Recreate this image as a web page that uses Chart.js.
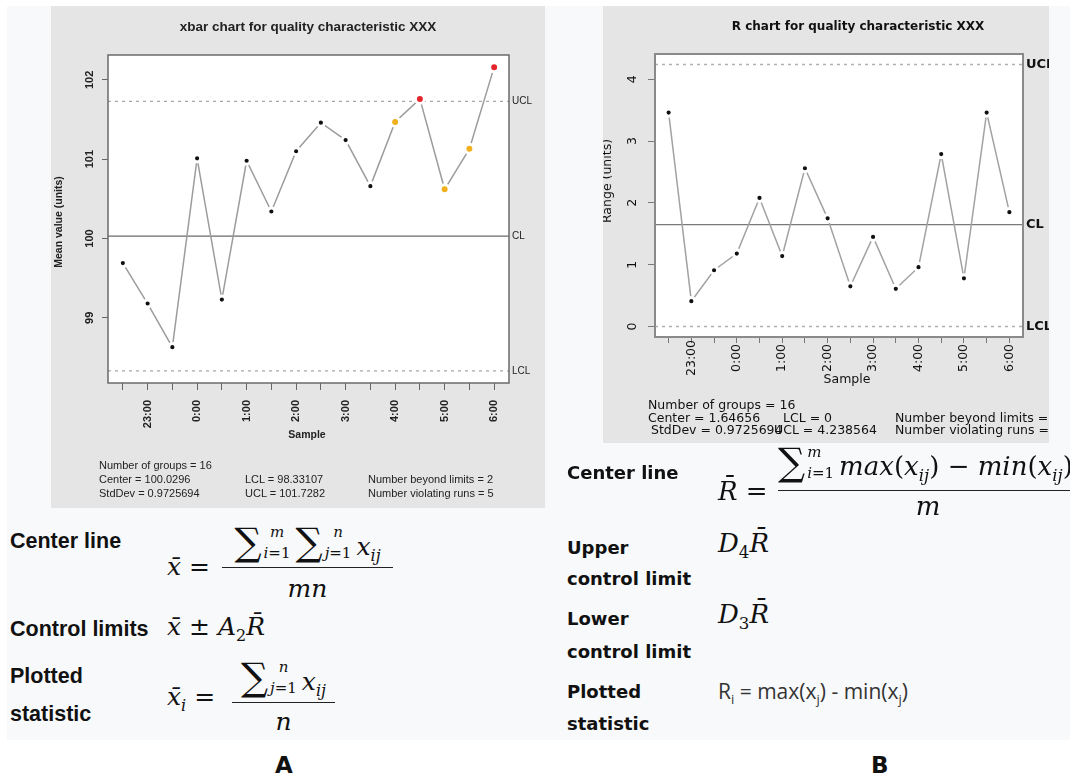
<!DOCTYPE html>
<html>
<head>
<meta charset="utf-8">
<script src="https://cdn.jsdelivr.net/npm/chart.js@4.4.1/dist/chart.umd.min.js"></script>
<style>
  body { margin:0; width:1070px; height:778px; background:#fff; position:relative; overflow:hidden; font-family:"Liberation Sans", Arial, sans-serif; color:#111; }
  .sheet { position:absolute; left:7px; top:6px; width:1063px; height:734px; background:#f8f9fa; }
  .panel { position:absolute; background:#e5e5e5; overflow:hidden; }
  #pa { left:51px; top:6px; width:494px; height:502px; }
  #pb { left:603px; top:6px; width:446px; height:437px; }
  .panel canvas { position:absolute; left:0; top:0; }
  .st { position:absolute; white-space:nowrap; line-height:1; }
  #pa .st { font-size:11px; color:#222; font-family:"Liberation Sans", Arial, sans-serif; }
  #pb .st { font-size:12.5px; color:#111; font-family:"DejaVu Sans", sans-serif; }
  .t { position:absolute; white-space:nowrap; line-height:1; }
  .la { font:bold 21.5px "Liberation Sans", Arial, sans-serif; color:#111; }
  .lb { font:bold 18px "DejaVu Sans", sans-serif; color:#111; }
  .m { font-family:"DejaVu Serif", "Liberation Serif", serif; font-size:25px; color:#111; }
  .m.r { font-size:26px; }
  .m i { font-style:italic; }
  .m sub, .m sup { font-size:0.64em; line-height:0; }
  .sg { font-size:38px; line-height:0; }
  .lim { display:inline-flex; flex-direction:column; font-size:15px; line-height:21px; position:relative; top:-18px; vertical-align:baseline; margin:0 5px 0 2px; }
  .bar { position:absolute; height:0; border-top:1.6px solid #222; }
  .big { position:absolute; font:900 23px "DejaVu Sans", sans-serif; color:#111; line-height:1; }
</style>
</head>
<body>
<div class="sheet"></div>

<div class="panel" id="pa">
  <canvas id="xbarChart" width="494" height="502"></canvas>
  <div class="st" style="left:48px;top:454px">Number of groups = 16</div>
  <div class="st" style="left:48px;top:468px">Center = 100.0296</div>
  <div class="st" style="left:48px;top:482px">StdDev = 0.9725694</div>
  <div class="st" style="left:194px;top:468px">LCL = 98.33107</div>
  <div class="st" style="left:194px;top:482px">UCL = 101.7282</div>
  <div class="st" style="left:317px;top:468px">Number beyond limits = 2</div>
  <div class="st" style="left:317px;top:482px">Number violating runs = 5</div>
</div>

<div class="panel" id="pb">
  <canvas id="rangeChart" width="446" height="437"></canvas>
  <div class="st" style="left:45px;top:393px">Number of groups = 16</div>
  <div class="st" style="left:45px;top:406px">Center = 1.64656</div>
  <div class="st" style="left:48px;top:418px">StdDev = 0.9725694</div>
  <div class="st" style="left:180px;top:406px">LCL = 0</div>
  <div class="st" style="left:171px;top:418px">UCL = 4.238564</div>
  <div class="st" style="left:292px;top:406px">Number beyond limits = 0</div>
  <div class="st" style="left:292px;top:418px">Number violating runs = 0</div>
</div>

<!-- A: formulas -->
<div class="t la" style="left:10px;top:529px">Center line</div>
<div class="t m" style="left:167px;top:554px"><i>x̄</i> =</div>
<div class="t m" style="left:212px;top:534px;width:191px;text-align:center"><span class="sg">∑</span><span class="lim"><i>m</i><span><i>i</i>=1</span></span><span class="sg">∑</span><span class="lim"><i>n</i><span><i>j</i>=1</span></span><i>x</i><sub><i>ij</i></sub></div>
<div class="bar" style="left:222px;top:567px;width:171px"></div>
<div class="t m" style="left:222px;top:576px;width:171px;text-align:center"><i>mn</i></div>

<div class="t la" style="left:10px;top:617px">Control limits</div>
<div class="t m" style="left:167px;top:614px"><i>x̄</i> ± <i>A</i><sub>2</sub><i>R̄</i></div>

<div class="t la" style="left:10px;top:664px">Plotted</div>
<div class="t la" style="left:10px;top:702px">statistic</div>
<div class="t m" style="left:167px;top:684px"><i>x̄</i><sub><i>i</i></sub> =</div>
<div class="t m" style="left:222px;top:669px;width:123px;text-align:center"><span class="sg">∑</span><span class="lim"><i>n</i><span><i>j</i>=1</span></span><i>x</i><sub><i>ij</i></sub></div>
<div class="bar" style="left:232px;top:702px;width:103px"></div>
<div class="t m" style="left:232px;top:709px;width:103px;text-align:center"><i>n</i></div>

<!-- B: formulas -->
<div class="t lb" style="left:567px;top:462px">Center line</div>
<div class="t m r" style="left:718px;top:478px"><i>R̄</i> =</div>
<div class="t m r" style="left:778px;top:453px"><span class="sg">∑</span><span class="lim"><i>m</i><span><i>i</i>=1</span></span><i>max</i>(<i>x</i><sub><i>ij</i></sub>) − <i>min</i>(<i>x</i><sub><i>ij</i></sub>)</div>
<div class="bar" style="left:778px;top:490px;width:300px"></div>
<div class="t m r" style="left:778px;top:493px;width:300px;text-align:center"><i>m</i></div>

<div class="t lb" style="left:567px;top:537px">Upper</div>
<div class="t lb" style="left:567px;top:568px">control limit</div>
<div class="t m r" style="left:718px;top:530px"><i>D</i><sub>4</sub><i>R̄</i></div>
<div class="t lb" style="left:567px;top:608px">Lower</div>
<div class="t lb" style="left:567px;top:641px">control limit</div>
<div class="t m r" style="left:718px;top:601px"><i>D</i><sub>3</sub><i>R̄</i></div>
<div class="t lb" style="left:567px;top:681px">Plotted</div>
<div class="t lb" style="left:567px;top:713px">statistic</div>
<div class="t" style="left:718px;top:677px;font:21px 'Open Sans','Liberation Sans',Arial,sans-serif;color:#333">R<sub style="font-size:13px">i</sub> = max(x<sub style="font-size:13px">j</sub>) - min(x<sub style="font-size:13px">j</sub>)</div>

<div class="big" style="left:275px;top:754px">A</div>
<div class="big" style="left:871px;top:754px">B</div>

<script>
// sample times (one subgroup every half hour)
const times = ['22:30','23:00','23:30','0:00','0:30','1:00','1:30','2:00','2:30','3:00','3:30','4:00','4:30','5:00','5:30','6:00'];

// xbar chart
const xbarValues = [99.69, 99.18, 98.63, 101.01, 99.23, 100.98, 100.34, 101.10, 101.46, 101.24, 100.66, 101.47, 101.76, 100.62, 101.13, 102.16];
const xbarFlags  = ['', '', '', '', '', '', '', '', '', '', '', 'run', 'out', 'run', 'run', 'out'];
const xbarLimits = [101.7282, 100.0296, 98.33107];   // UCL, CL, LCL
const xbarTicks  = [99, 100, 101, 102];

// R chart
const rangeValues = [3.46, 0.41, 0.91, 1.18, 2.08, 1.14, 2.56, 1.75, 0.65, 1.45, 0.61, 0.96, 2.79, 0.78, 3.46, 1.85];
const rangeFlags  = ['', '', '', '', '', '', '', '', '', '', '', '', '', '', '', ''];
const rangeLimits = [4.238564, 1.64656, 0];
const rangeTicks  = [0, 1, 2, 3, 4];

const limitNames = ['UCL', 'CL', 'LCL'];
const flagColor = { '': '#111', run: '#f1b11f', out: '#e4262a' };

// R style extension of 4% on each side
function padRange(vals) {
  const lo = Math.min(...vals), hi = Math.max(...vals), d = (hi - lo) * 0.04;
  return [lo - d, hi + d];
}

function rot(ctx, s, px, py) {
  ctx.save(); ctx.translate(px, py); ctx.rotate(-Math.PI / 2); ctx.fillText(s, 0, 0); ctx.restore();
}

const rPlot = {
  id: 'rPlot',
  beforeDraw(chart) {
    const {ctx, chartArea: a} = chart;
    ctx.save(); ctx.fillStyle = '#fff'; ctx.fillRect(a.left, a.top, a.width, a.height); ctx.restore();
  },
  afterDraw(chart, args, o) {
    const {ctx, chartArea: a, scales: {x, y}} = chart;
    ctx.save();
    ctx.strokeStyle = o.boxColor; ctx.lineWidth = o.boxWidth;
    ctx.strokeRect(a.left, a.top, a.width, a.height);
    ctx.fillStyle = o.textColor;
    ctx.textBaseline = 'middle';
    // y tick labels run along the axis
    ctx.font = o.tickFont; ctx.textAlign = 'center';
    y.ticks.forEach(t => rot(ctx, String(t.value), o.yTickX, y.getPixelForValue(t.value)));
    // x tick labels, only on the hour
    ctx.textAlign = o.xTickAlign;
    x.ticks.forEach(t => {
      const s = times[t.value - 1];
      if (s.endsWith(':00')) rot(ctx, s, x.getPixelForValue(t.value), o.xTickY);
    });
    // limit names right of the box
    ctx.font = o.limitFont; ctx.textAlign = 'left';
    o.limits.forEach((v, i) => ctx.fillText(limitNames[i], a.right + o.limitGap, y.getPixelForValue(v)));
    // axis titles and main title
    ctx.font = o.axisFont; ctx.textAlign = 'center';
    ctx.fillText('Sample', o.xTitle[0], o.xTitle[1]);
    rot(ctx, o.yTitle, o.yTitlePos[0], o.yTitlePos[1]);
    ctx.font = o.titleFont;
    ctx.fillText(o.title, o.titlePos[0], o.titlePos[1]);
    ctx.restore();
  }
};

function controlChart(id, values, flags, limits, yTicks, s) {
  const n = values.length;
  const [ymin, ymax] = padRange(values.concat(limits));
  const limitSets = limits.map((v, i) => ({
    data: [{x: 0.4, y: v}, {x: n + 0.6, y: v}],
    borderColor: i === 1 ? s.clColor : s.dashColor,
    borderWidth: 1.3,
    borderDash: i === 1 ? [] : [3, 4],
    pointRadius: 0,
    order: 2
  }));
  return new Chart(document.getElementById(id), {
    type: 'line',
    data: {
      datasets: [{
        data: values.map((v, i) => ({x: i + 1, y: v})),
        borderColor: s.lineColor,
        borderWidth: 1.5,
        pointRadius: flags.map(f => f ? 4.5 : 3.6),
        pointBorderWidth: 3,
        pointBorderColor: '#fff',
        pointBackgroundColor: flags.map(f => flagColor[f]),
        order: 1
      }, ...limitSets]
    },
    options: {
      responsive: false,
      devicePixelRatio: 1,
      animation: false,
      events: [],
      layout: { autoPadding: false, padding: s.padding },
      plugins: { legend: { display: false }, tooltip: { enabled: false }, rPlot: s.plot },
      scales: {
        x: {
          type: 'linear', min: 0.4, max: n + 0.6,
          afterBuildTicks: sc => { sc.ticks = values.map((_, i) => ({value: i + 1})); },
          afterFit: sc => { sc.height = s.xHeight; },
          ticks: { display: false },
          grid: { drawOnChartArea: false, drawTicks: true, tickLength: s.xTickLen, color: s.tickColor },
          border: { display: false }
        },
        y: {
          type: 'linear', min: ymin, max: ymax,
          afterBuildTicks: sc => { sc.ticks = yTicks.map(v => ({value: v})); },
          afterFit: sc => { sc.width = s.yWidth; },
          ticks: { display: false },
          grid: { drawOnChartArea: false, drawTicks: true, tickLength: s.yTickLen, color: s.tickColor },
          border: { display: false }
        }
      }
    },
    plugins: [rPlot]
  });
}

controlChart('xbarChart', xbarValues, xbarFlags, xbarLimits, xbarTicks, {
  padding: {top: 49, right: 36, bottom: 0, left: 0},
  xHeight: 125, yWidth: 57, xTickLen: 7, yTickLen: 6,
  tickColor: '#666', lineColor: '#9c9c9c', clColor: '#6a6a6a', dashColor: '#a8a8a8',
  plot: {
    boxColor: '#6a6a6a', boxWidth: 1.5, textColor: '#222',
    tickFont: 'bold 11px "Liberation Sans", Arial, sans-serif', yTickX: 39,
    xTickAlign: 'right', xTickY: 394,
    limitFont: '10px "Liberation Sans", Arial, sans-serif', limitGap: 3, limits: xbarLimits,
    axisFont: 'bold 10.5px "Liberation Sans", Arial, sans-serif',
    xTitle: [256, 429], yTitle: 'Mean value (units)', yTitlePos: [8, 216],
    titleFont: 'bold 13.5px "Liberation Sans", Arial, sans-serif',
    title: 'xbar chart for quality characteristic XXX', titlePos: [257, 21]
  }
});

controlChart('rangeChart', rangeValues, rangeFlags, rangeLimits, rangeTicks, {
  padding: {top: 48, right: 26, bottom: 0, left: 0},
  xHeight: 106, yWidth: 52, xTickLen: 6, yTickLen: 7,
  tickColor: '#777', lineColor: '#a2a2a2', clColor: '#7a7a7a', dashColor: '#b0b0b0',
  plot: {
    boxColor: '#8a8a8a', boxWidth: 2, textColor: '#111',
    tickFont: '12.5px "DejaVu Sans", sans-serif', yTickX: 30,
    xTickAlign: 'center', xTickY: 352,
    limitFont: 'bold 13px "DejaVu Sans", sans-serif', limitGap: 3, limits: rangeLimits,
    axisFont: '12.5px "DejaVu Sans", sans-serif',
    xTitle: [244, 374], yTitle: 'Range (units)', yTitlePos: [5, 175],
    titleFont: 'bold 12px "DejaVu Sans", sans-serif',
    title: 'R chart for quality characteristic XXX', titlePos: [255, 21]
  }
});
</script>
</body>
</html>
